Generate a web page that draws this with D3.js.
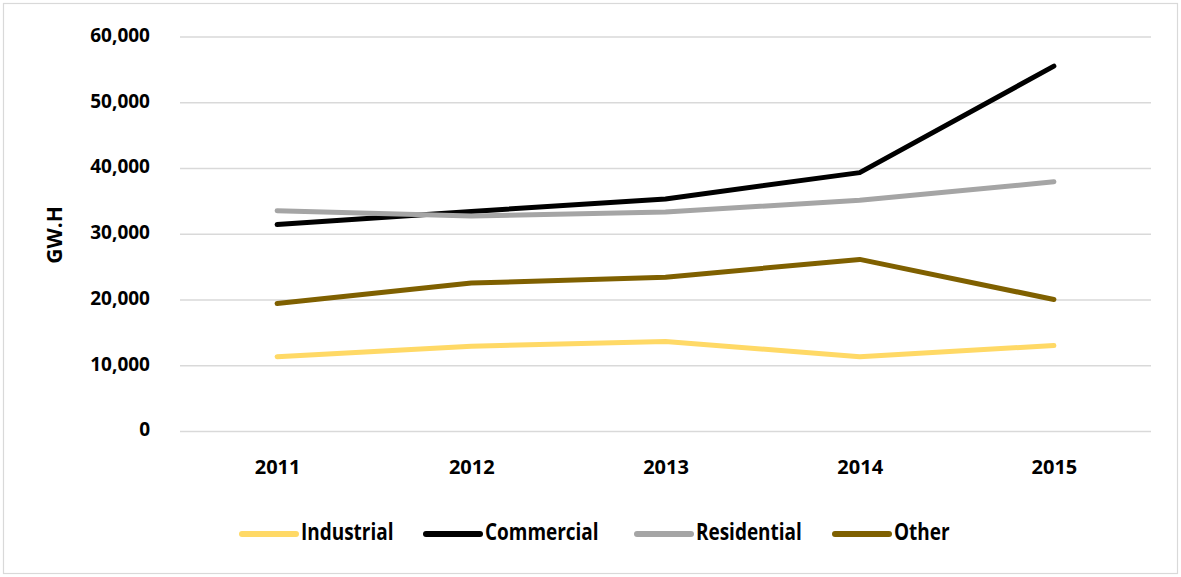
<!DOCTYPE html>
<html>
<head>
<meta charset="utf-8">
<script src="https://cdn.jsdelivr.net/npm/d3@7"></script>
<style>
  html, body { margin: 0; padding: 0; background: #fff; }
  svg { display: block; }
</style>
</head>
<body>
<svg id="chart" width="1181" height="577"></svg>
<script>
// Electricity consumption by sector, GW.H
const years = ["2011", "2012", "2013", "2014", "2015"];
const industrial  = [11300, 12900, 13600, 11300, 13000];
const commercial  = [31400, 33400, 35300, 39300, 55500];
const residential = [33500, 32700, 33300, 35100, 37900];
const other       = [19400, 22500, 23400, 26100, 20000];
const yTicks = [0, 10000, 20000, 30000, 40000, 50000, 60000];

const seriesNames = ["Industrial", "Commercial", "Residential", "Other"];
const seriesColors = ["#FFD966", "#000000", "#A5A5A5", "#7F6000"];
const series = [industrial, commercial, residential, other].map((vals, i) => ({
  name: seriesNames[i], color: seriesColors[i],
  points: vals.map((v, j) => ({ year: years[j], value: v }))
}));

const svg = d3.select("#chart");
const W = 1181, H = 577;
const plot = { left: 180, right: 1151, top: 36.5, bottom: 431 };

// outer frame
svg.append("rect")
  .attr("x", 3.5).attr("y", 3.5)
  .attr("width", W - 7).attr("height", H - 7)
  .attr("fill", "#fff").attr("stroke", "#d9d9d9").attr("stroke-width", 1.2);

const x = d3.scalePoint().domain(years).range([plot.left, plot.right]).padding(0.5);
const y = d3.scaleLinear().domain([0, 60000]).range([plot.bottom, plot.top]);

const font = "'Open Sans', 'DejaVu Sans', sans-serif";

// horizontal gridlines + y labels
const yAxis = d3.axisLeft(y)
  .tickValues(yTicks)
  .tickSize(-(plot.right - plot.left))
  .tickPadding(30)
  .tickFormat(d3.format(",.0f"));

const gy = svg.append("g")
  .attr("transform", `translate(${plot.left},0)`)
  .call(yAxis);
gy.select(".domain").remove();
gy.selectAll(".tick line").attr("stroke", "#d9d9d9").attr("stroke-width", 1.5);
gy.selectAll(".tick text")
  .attr("fill", "#000")
  .attr("dy", "0.25em")
  .style("font-family", font)
  .style("font-weight", 700)
  .style("font-size", "19px");

// x axis labels
const xAxis = d3.axisBottom(x).tickSize(0).tickPadding(29);
const gx = svg.append("g")
  .attr("transform", `translate(0,${plot.bottom})`)
  .call(xAxis);
gx.select(".domain").remove();
gx.selectAll(".tick text")
  .attr("fill", "#000")
  .style("font-family", font)
  .style("font-weight", 700)
  .style("font-size", "20px");

// y axis title
svg.append("text")
  .attr("transform", `translate(62,235) rotate(-90)`)
  .attr("text-anchor", "middle")
  .style("font-family", font)
  .style("font-weight", 700)
  .style("font-size", "21px")
  .text("GW.H");

// lines
const line = d3.line().x(d => x(d.year)).y(d => y(d.value));
svg.append("g").selectAll("path")
  .data(series)
  .join("path")
  .attr("d", d => line(d.points))
  .attr("fill", "none")
  .attr("stroke", d => d.color)
  .attr("stroke-width", 5)
  .attr("stroke-linecap", "round")
  .attr("stroke-linejoin", "round");

// legend (condensed labels)
const legendX = [242, 426, 637, 835];
const legend = svg.append("g").selectAll("g")
  .data(series)
  .join("g")
  .attr("transform", (d, i) => `translate(${legendX[i]},534)`);
legend.append("line")
  .attr("x1", 0).attr("x2", 54)
  .attr("stroke", d => d.color)
  .attr("stroke-width", 6)
  .attr("stroke-linecap", "round");
legend.append("text")
  .attr("transform", "translate(59,5.5) scale(0.79,1)")
  .style("font-family", font)
  .style("font-weight", 700)
  .style("font-size", "24px")
  .text(d => d.name);
</script>
</body>
</html>
